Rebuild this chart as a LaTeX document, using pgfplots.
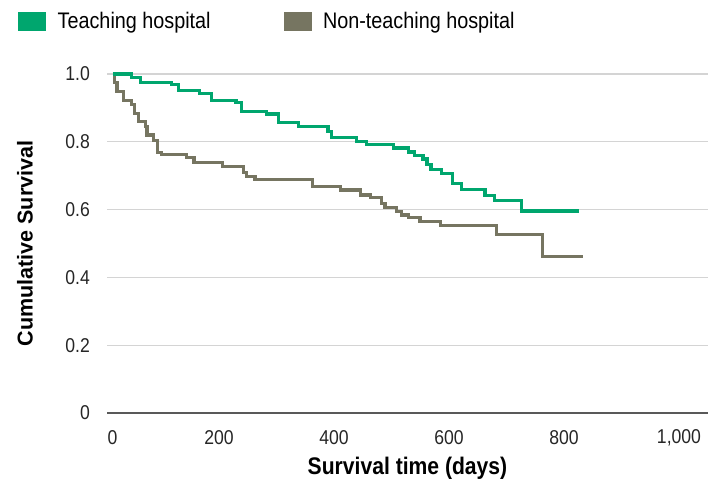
\documentclass[border=0pt]{standalone}
\usepackage{fontspec}
\setmainfont{Liberation Sans}[FakeStretch=0.88]
\newfontfamily\ylabfont{Liberation Sans}
\usepackage{pgfplots}
\pgfplotsset{compat=1.18}
\definecolor{tgreen}{RGB}{0,166,110}
\definecolor{tgray}{RGB}{118,117,97}
\begin{document}
\begin{tikzpicture}[x=1pt,y=1pt]
\path[use as bounding box] (0,0) rectangle (708,485);
\begin{axis}[
  at={(107pt,72pt)}, anchor=south west,
  scale only axis, width=601pt, height=339pt,
  xmin=-10.4, xmax=1034.8, ymin=0, ymax=1,
  clip=false,
  axis line style={draw=none},
  major tick length=0pt,
  xtick={0,200,400,600,800,1000},
  xticklabels={\hspace*{17pt}0,200,400,600,800,{1,000}},
  ytick={0.2,0.4,0.6,0.8,1.0},
  yticklabels={0.2,0.4,0.6,0.8,1.0},
  extra y ticks={0},
  extra y tick labels={0},
  extra y tick style={grid style={draw=black!65, line width=1.5pt}},
  ymajorgrids,
  grid style={draw=black!17, line width=1.3pt},
  ticklabel style={font=\fontsize{20}{24}\selectfont, text=black!85},
  xticklabel style={anchor=center, yshift=-25pt, xshift=-9pt},
  yticklabel style={anchor=east, inner sep=0pt, xshift=-17pt},
  xlabel={Survival time (days)},
  xlabel style={at={(axis description cs:0.5,-0.162)}, anchor=center, font=\bfseries\fontsize{24}{28}\selectfont},
  ylabel={Cumulative Survival},
  ylabel style={at={(axis description cs:-0.1364,0.5)}, anchor=center, rotate=0, font=\ylabfont\bfseries\fontsize{21.5}{26}\selectfont},
  legend columns=2,
  legend cell align=left,
  legend style={draw=none, fill=none, at={(-0.148,1.155)}, anchor=west, inner sep=0pt,
    font=\fontsize{22.5}{27}\selectfont,
    /tikz/every odd column/.append style={column sep=10pt},
    /tikz/every even column/.append style={column sep=71pt}},
]
\addlegendimage{legend image code/.code={\fill[tgreen] (0pt,-9pt) rectangle (27pt,9pt);}}
\addlegendentry{Teaching hospital}
\addlegendimage{legend image code/.code={\fill[tgray] (0pt,-9pt) rectangle (27pt,9pt);}}
\addlegendentry{Non-teaching hospital}
\addplot[const plot, tgray, line width=3.2pt, forget plot] coordinates {
(0,1.0) (3,0.975) (7,0.948) (18,0.923) (32,0.909) (38,0.884) (44,0.859)
(56,0.845) (59,0.820) (70,0.805) (77,0.768) (85,0.762) (128,0.753)
(141,0.739) (190,0.727) (227,0.710) (232,0.697) (247,0.689) (347,0.668)
(395,0.658) (430,0.643) (448,0.635) (467,0.619) (473,0.607) (493,0.594)
(502,0.584) (514,0.576) (534,0.565) (570,0.552) (667,0.527) (747,0.462)
(817,0.462)};
\addplot[const plot, tgreen, line width=3.2pt, forget plot] coordinates {
(0,1.0) (32,0.990) (48,0.976) (102,0.970) (114,0.952) (151,0.943)
(172,0.923) (214,0.915) (224,0.889) (267,0.882) (288,0.858) (322,0.846)
(374,0.830) (380,0.812) (424,0.800) (441,0.792) (488,0.782) (514,0.770)
(525,0.760) (539,0.749) (546,0.733) (553,0.718) (572,0.707) (591,0.678)
(606,0.660) (647,0.641) (663,0.626) (711,0.596) (811,0.596)};
\end{axis}
\end{tikzpicture}
\end{document}
